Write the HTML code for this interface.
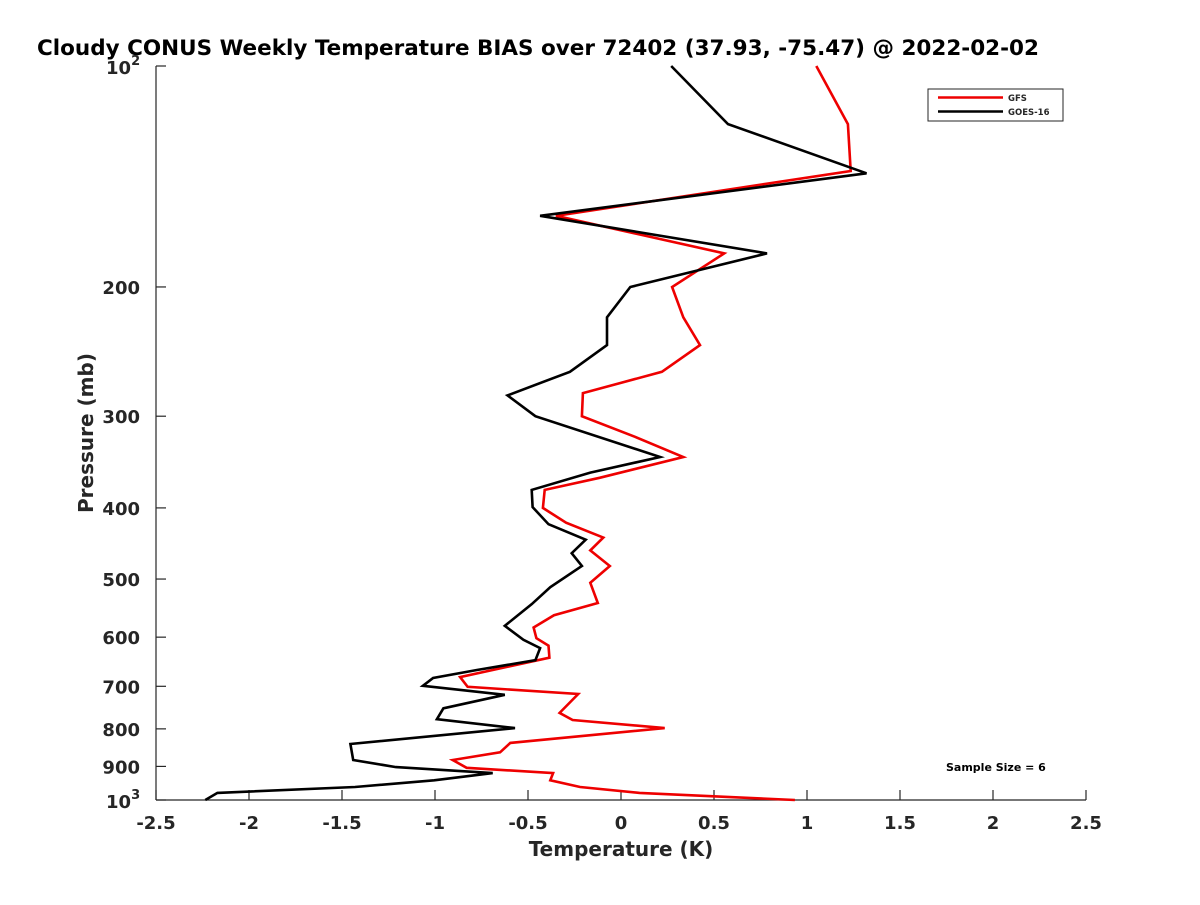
<!DOCTYPE html>
<html><head><meta charset="utf-8"><style>
body{margin:0;background:#fff;}
svg text{font-family:"DejaVu Sans","Liberation Sans",sans-serif;font-weight:bold;fill:#262626;}
</style></head><body>
<svg width="1200" height="900" xmlns="http://www.w3.org/2000/svg" id="c">
<rect width="1200" height="900" fill="#fff"/>
<text x="37" y="55" font-size="21.5" style="fill:#000">Cloudy CONUS Weekly Temperature BIAS over 72402 (37.93, -75.47) @ 2022-02-02</text>
<g id="axes"></g>
<g id="series"></g>
<g>
<rect x="928" y="89" width="135" height="32" fill="#fff" stroke="#262626" stroke-width="1"/>
<line x1="938" y1="97.5" x2="1003" y2="97.5" stroke="#e00" stroke-width="2.5"/>
<text x="1008" y="101" font-size="8.5">GFS</text>
<line x1="938" y1="111.5" x2="1003" y2="111.5" stroke="#000" stroke-width="2.5"/>
<text x="1008" y="115" font-size="8.5">GOES-16</text>
</g>
<text x="946" y="771" font-size="11" style="fill:#000">Sample Size = 6</text>
<text x="621" y="856" font-size="20" text-anchor="middle">Temperature (K)</text>
<text transform="translate(93,433) rotate(-90)" font-size="20" text-anchor="middle">Pressure (mb)</text>
</svg>
<script>
const xTicks=[-2.5,-2,-1.5,-1,-0.5,0,0.5,1,1.5,2,2.5];
const xTickLabels=["-2.5","-2","-1.5","-1","-0.5","0","0.5","1","1.5","2","2.5"];
const yTicks=[200,300,400,500,600,700,800,900];
const goesP=[100,120,140,160,180,200,220,240,261,281,300,341,358,378,399,421,442,461,480,513,541,563,579,605,621,645,665,682,699,719,750,776,798,839,882,902,919,940,960,978,1000];
const goesT=[0.27,0.575,1.32,-0.435,0.785,0.05,-0.075,-0.075,-0.275,-0.61,-0.46,0.21,-0.165,-0.48,-0.475,-0.39,-0.19,-0.265,-0.21,-0.38,-0.48,-0.565,-0.625,-0.525,-0.435,-0.46,-0.775,-1.01,-1.065,-0.625,-0.955,-0.99,-0.57,-1.455,-1.44,-1.21,-0.69,-1.005,-1.43,-2.17,-2.235];
const gfsP=[100,120,139,160,180,200,220,240,261,279,300,320,341,364,378,400,419,439,457,480,506,539,560,582,602,616,640,680,701,717,761,778,798,836,861,882,904,919,940,960,978,1000];
const gfsT=[1.05,1.22,1.235,-0.35,0.555,0.275,0.335,0.425,0.22,-0.205,-0.21,0.075,0.335,-0.115,-0.41,-0.42,-0.295,-0.095,-0.165,-0.06,-0.165,-0.125,-0.36,-0.47,-0.455,-0.39,-0.385,-0.865,-0.825,-0.23,-0.33,-0.26,0.235,-0.595,-0.65,-0.905,-0.83,-0.365,-0.38,-0.22,0.10,0.935];
const X0=156,X1=1086,Y0=66,Y1=800;
const xs=v=>X0+(v+2.5)/5*(X1-X0);
const ys=p=>Y0+(Math.log10(p)-2)*(Y1-Y0);
const NS="http://www.w3.org/2000/svg";
function mk(t,a,parent){const e=document.createElementNS(NS,t);for(const k in a)e.setAttribute(k,a[k]);parent.appendChild(e);return e;}
const ax=document.getElementById('axes');
let l=mk('line',{x1:X0,y1:Y0,x2:X0,y2:Y1,stroke:'#262626','stroke-width':1.2},ax);


l=mk('line',{x1:X0,y1:Y1,x2:X1,y2:Y1,stroke:'#262626','stroke-width':1.2},ax);


xTicks.forEach((v,i)=>{
 const t=mk('line',{x1:xs(v),y1:Y1,x2:xs(v),y2:Y1-10,stroke:'#262626','stroke-width':1.2},ax);
 
 
 const tx=mk('text',{x:xs(v),y:Y1+29,'font-size':18,'text-anchor':'middle'},ax);
 tx.textContent=xTickLabels[i];
 
 
});
[100,1000].concat(yTicks).forEach(p=>{
 const t=mk('line',{x1:X0,y1:ys(p),x2:X0+10,y2:ys(p),stroke:'#262626','stroke-width':1.2},ax);
 
 
});
yTicks.forEach(p=>{
 const tx=mk('text',{x:X0-16,y:ys(p)+7,'font-size':18,'text-anchor':'end'},ax);
 tx.textContent=String(p);
 
 
});
[[100,'2'],[1000,'3']].forEach(([p,e])=>{
 const tx=mk('text',{x:X0-50,y:ys(p)+8,'font-size':18},ax);
 tx.textContent='10';
 
 
 const s=mk('tspan',{dy:-9,'font-size':13},tx);s.textContent=e;
});
const sg=document.getElementById('series');
function line(P,T,color,name){
 const pts=P.map((p,i)=>xs(T[i]).toFixed(1)+','+ys(p).toFixed(1)).join(' ');
 const e=mk('polyline',{points:pts,fill:'none',stroke:color,'stroke-width':2.6,'stroke-linejoin':'miter'},sg);
 
 
}
line(gfsP,gfsT,'#e00','gfs-line');
line(goesP,goesT,'#000','goes16-line');
</script>
</body></html>
